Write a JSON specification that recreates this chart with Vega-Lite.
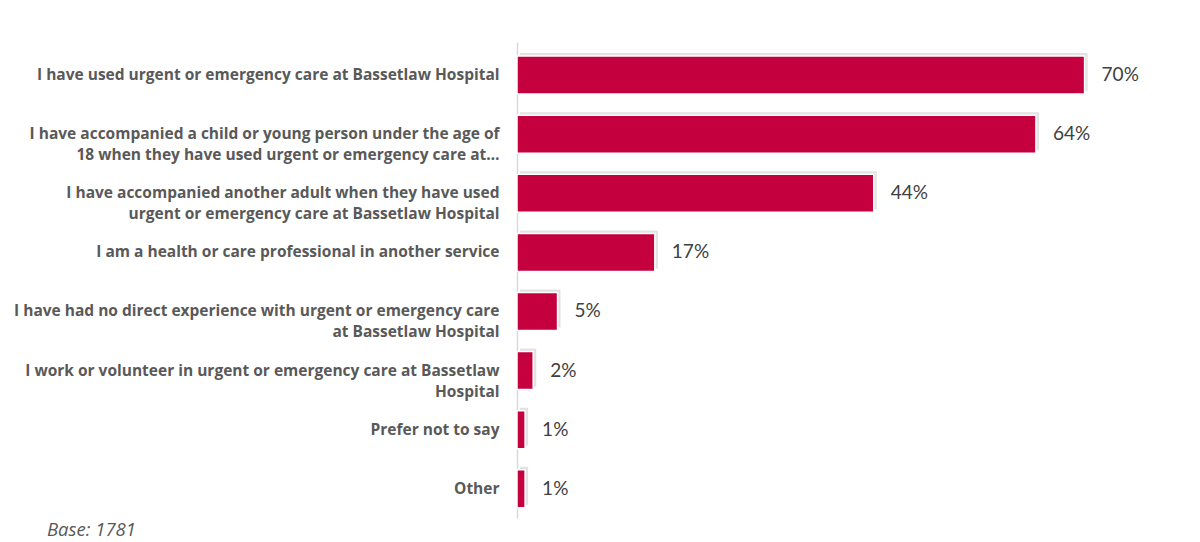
{
  "$schema": "https://vega.github.io/schema/vega-lite/v6.json",
  "width": 673,
  "height": 476,
  "autosize": {"type": "none"},
  "padding": {"left": 517, "top": 42, "right": 10, "bottom": 24},
  "background": "white",
  "config": {"view": {"stroke": null}, "font": "Open Sans"},
  "title": {
    "text": "Base: 1781",
    "orient": "bottom",
    "anchor": "start",
    "frame": "group",
    "dx": -470,
    "offset": 3,
    "font": "Open Sans",
    "fontSize": 18.5,
    "fontStyle": "italic",
    "fontWeight": "normal",
    "color": "#595959"
  },
  "data": {
    "values": [
      {"label": "I have used urgent or emergency care at Bassetlaw Hospital", "share": 0.70},
      {"label": "I have accompanied a child or young person under the age of|18 when they have used urgent or emergency care at…", "share": 0.64},
      {"label": "I have accompanied another adult when they have used|urgent or emergency care at Bassetlaw Hospital", "share": 0.44},
      {"label": "I am a health or care professional in another service", "share": 0.17},
      {"label": "I have had no direct experience with urgent or emergency care|at Bassetlaw Hospital", "share": 0.05},
      {"label": "I work or volunteer in urgent or emergency care at Bassetlaw|Hospital", "share": 0.02},
      {"label": "Prefer not to say", "share": 0.01},
      {"label": "Other", "share": 0.01}
    ]
  },
  "encoding": {
    "y": {
      "field": "label",
      "type": "nominal",
      "sort": null,
      "scale": {"paddingInner": 0.357, "paddingOuter": 0.205, "align": 0.58},
      "axis": {
        "title": null,
        "ticks": false,
        "domainColor": "#d9d9d9",
        "domainWidth": 1.5,
        "labelPadding": 18,
        "labelFont": "Open Sans",
        "labelFontSize": 15.5,
        "labelFontWeight": "bold",
        "labelColor": "#595959",
        "labelLimit": 560,
        "labelLineHeight": 21,
        "labelExpr": "split(datum.label, '|')"
      }
    },
    "x": {
      "field": "share",
      "type": "quantitative",
      "scale": {"domain": [0, 0.83]},
      "axis": null
    }
  },
  "layer": [
    {
      "mark": {"type": "bar", "color": "#bfbfbf", "opacity": 0.45, "xOffset": 3, "yOffset": -3}
    },
    {
      "mark": {"type": "bar", "color": "#C4003F", "stroke": "white", "strokeWidth": 1.5}
    },
    {
      "mark": {"type": "text", "align": "left", "baseline": "middle", "dx": 17, "font": "Lato", "fontSize": 19, "color": "#404040"},
      "encoding": {
        "text": {"field": "share", "type": "quantitative", "format": ".0%"}
      }
    }
  ]
}
